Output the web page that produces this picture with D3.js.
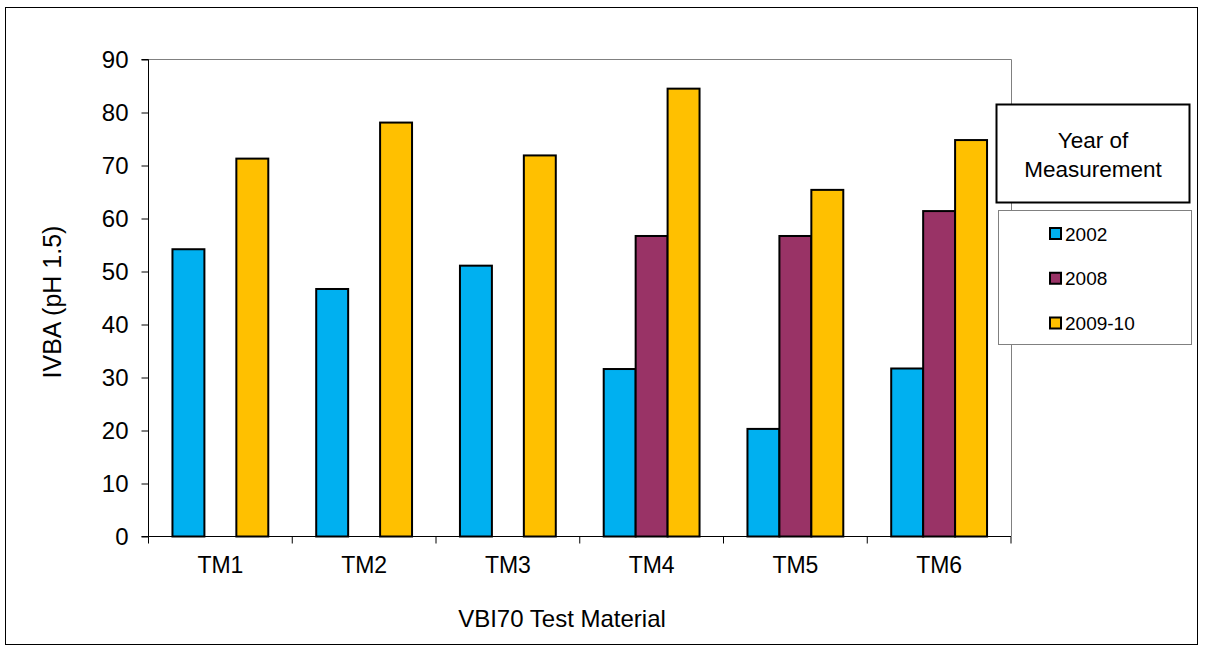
<!DOCTYPE html>
<html>
<head>
<meta charset="utf-8">
<script src="https://cdn.jsdelivr.net/npm/d3@7/dist/d3.min.js"></script>
<style>
  html, body { margin: 0; padding: 0; background: #fff; }
  svg { display: block; }
  text { font-family: "Liberation Sans", Arial, sans-serif; fill: #000; }
</style>
</head>
<body>
<svg id="chart" width="1205" height="648"></svg>
<script>
// ---- data ----
const categories = ["TM1", "TM2", "TM3", "TM4", "TM5", "TM6"];
const seriesNames = ["2002", "2008", "2009-10"];
const values2002 = [54.2, 46.7, 51.1, 31.6, 20.3, 31.7];
const values2008 = [null, null, null, 56.7, 56.7, 61.4];
const values2009_10 = [71.3, 78.1, 71.9, 84.5, 65.4, 74.8];
const yTicks = [0, 10, 20, 30, 40, 50, 60, 70, 80, 90];
const colors = ["#00B0F0", "#993366", "#FFC000"];
const yTitle = "IVBA (pH 1.5)";
const xTitle = "VBI70 Test Material";
const legendTitle = ["Year of", "Measurement"];

const seriesValues = [values2002, values2008, values2009_10];

(function () {
const svg = d3.select("#chart");

// outer frame
svg.append("rect")
  .attr("x", 5.5).attr("y", 7.5)
  .attr("width", 1192).attr("height", 637)
  .attr("fill", "#fff").attr("stroke", "#000").attr("stroke-width", 1);

const pL = 148.5, pR = 1011, pT = 59.5, pB = 536.5;

const x = d3.scaleBand().domain(categories).range([pL, pR]).paddingInner(0).paddingOuter(0);
const xs = d3.scaleBand().domain(seriesNames).range([0, x.bandwidth()]).paddingInner(0).paddingOuter(0.75);
const y = d3.scaleLinear().domain([0, 90]).range([pB, pT]);

// plot area border (top and right)
svg.append("path")
  .attr("d", `M${pL},${pT}H${pR + 0.5}V${pB}`)
  .attr("fill", "none").attr("stroke", "#808080").attr("stroke-width", 1);

// bars
const rows = [];
seriesNames.forEach((s, si) => {
  categories.forEach((c, ci) => {
    const v = seriesValues[si][ci];
    if (v != null) rows.push({ s, si, c, v });
  });
});

svg.append("g").selectAll("rect")
  .data(rows)
  .join("rect")
  .attr("x", d => x(d.c) + xs(d.s))
  .attr("y", d => y(d.v))
  .attr("width", xs.bandwidth())
  .attr("height", d => y(0) - y(d.v))
  .attr("fill", d => colors[d.si])
  .attr("stroke", "#000")
  .attr("stroke-width", 2);

// y axis
const yAxis = d3.axisLeft(y).tickValues(yTicks).tickSize(7).tickPadding(13).tickFormat(d3.format("d"));
const gy = svg.append("g").attr("transform", `translate(${pL},0)`).call(yAxis);
gy.select(".domain").attr("stroke", "#000").attr("d", `M-7,${pT}H0V${pB}H-7`);
gy.selectAll(".tick line").attr("stroke", "#000");
gy.selectAll(".tick text").attr("font-size", 24).attr("font-family", "Liberation Sans, Arial, sans-serif").attr("fill", "#000");

// x axis
const xAxis = d3.axisBottom(x).tickSize(0).tickPadding(20);
const gx = svg.append("g").attr("transform", `translate(0,${pB})`).call(xAxis);
gx.select(".domain").attr("stroke", "#000").attr("d", `M${pL},0H${pR}`);
gx.selectAll(".tick text").attr("font-size", 23).attr("font-family", "Liberation Sans, Arial, sans-serif").attr("fill", "#000");
const bounds = categories.map(c => x(c)).concat([x(categories[categories.length - 1]) + x.bandwidth()]);
gx.append("g").selectAll("line").data(bounds).join("line")
  .attr("x1", d => d).attr("x2", d => d)
  .attr("y1", 0).attr("y2", 7)
  .attr("stroke", "#000");

// axis titles
svg.append("text")
  .attr("transform", `translate(61,302) rotate(-90)`)
  .attr("text-anchor", "middle")
  .attr("font-size", 25)
  .text(yTitle);

svg.append("text")
  .attr("x", 562).attr("y", 627)
  .attr("text-anchor", "middle")
  .attr("font-size", 24)
  .text(xTitle);

// legend title box
svg.append("rect")
  .attr("x", 996.5).attr("y", 104.5).attr("width", 193).attr("height", 98)
  .attr("fill", "#fff").attr("stroke", "#000").attr("stroke-width", 2);
svg.append("g").selectAll("text").data(legendTitle).join("text")
  .attr("x", 1093).attr("y", (d, i) => 148 + i * 29)
  .attr("text-anchor", "middle")
  .attr("font-family", "Carlito, Lato, 'Open Sans', sans-serif")
  .attr("font-size", 22.5)
  .text(d => d);

// legend entries box
svg.append("rect")
  .attr("x", 998.5).attr("y", 210.5).attr("width", 193).attr("height", 134)
  .attr("fill", "#fff").attr("stroke", "#808080").attr("stroke-width", 1);

const ly = d3.scalePoint().domain(seriesNames).range([233.5, 323]);
const lg = svg.append("g").selectAll("g").data(seriesNames).join("g")
  .attr("transform", d => `translate(1050,${ly(d)})`);
lg.append("rect")
  .attr("x", 0).attr("y", -5.5).attr("width", 11).attr("height", 11)
  .attr("fill", (d, i) => colors[i]).attr("stroke", "#000").attr("stroke-width", 2);
lg.append("text")
  .attr("x", 15).attr("y", 7)
  .attr("font-size", 19)
  .text(d => d);
})();
</script>
</body>
</html>
